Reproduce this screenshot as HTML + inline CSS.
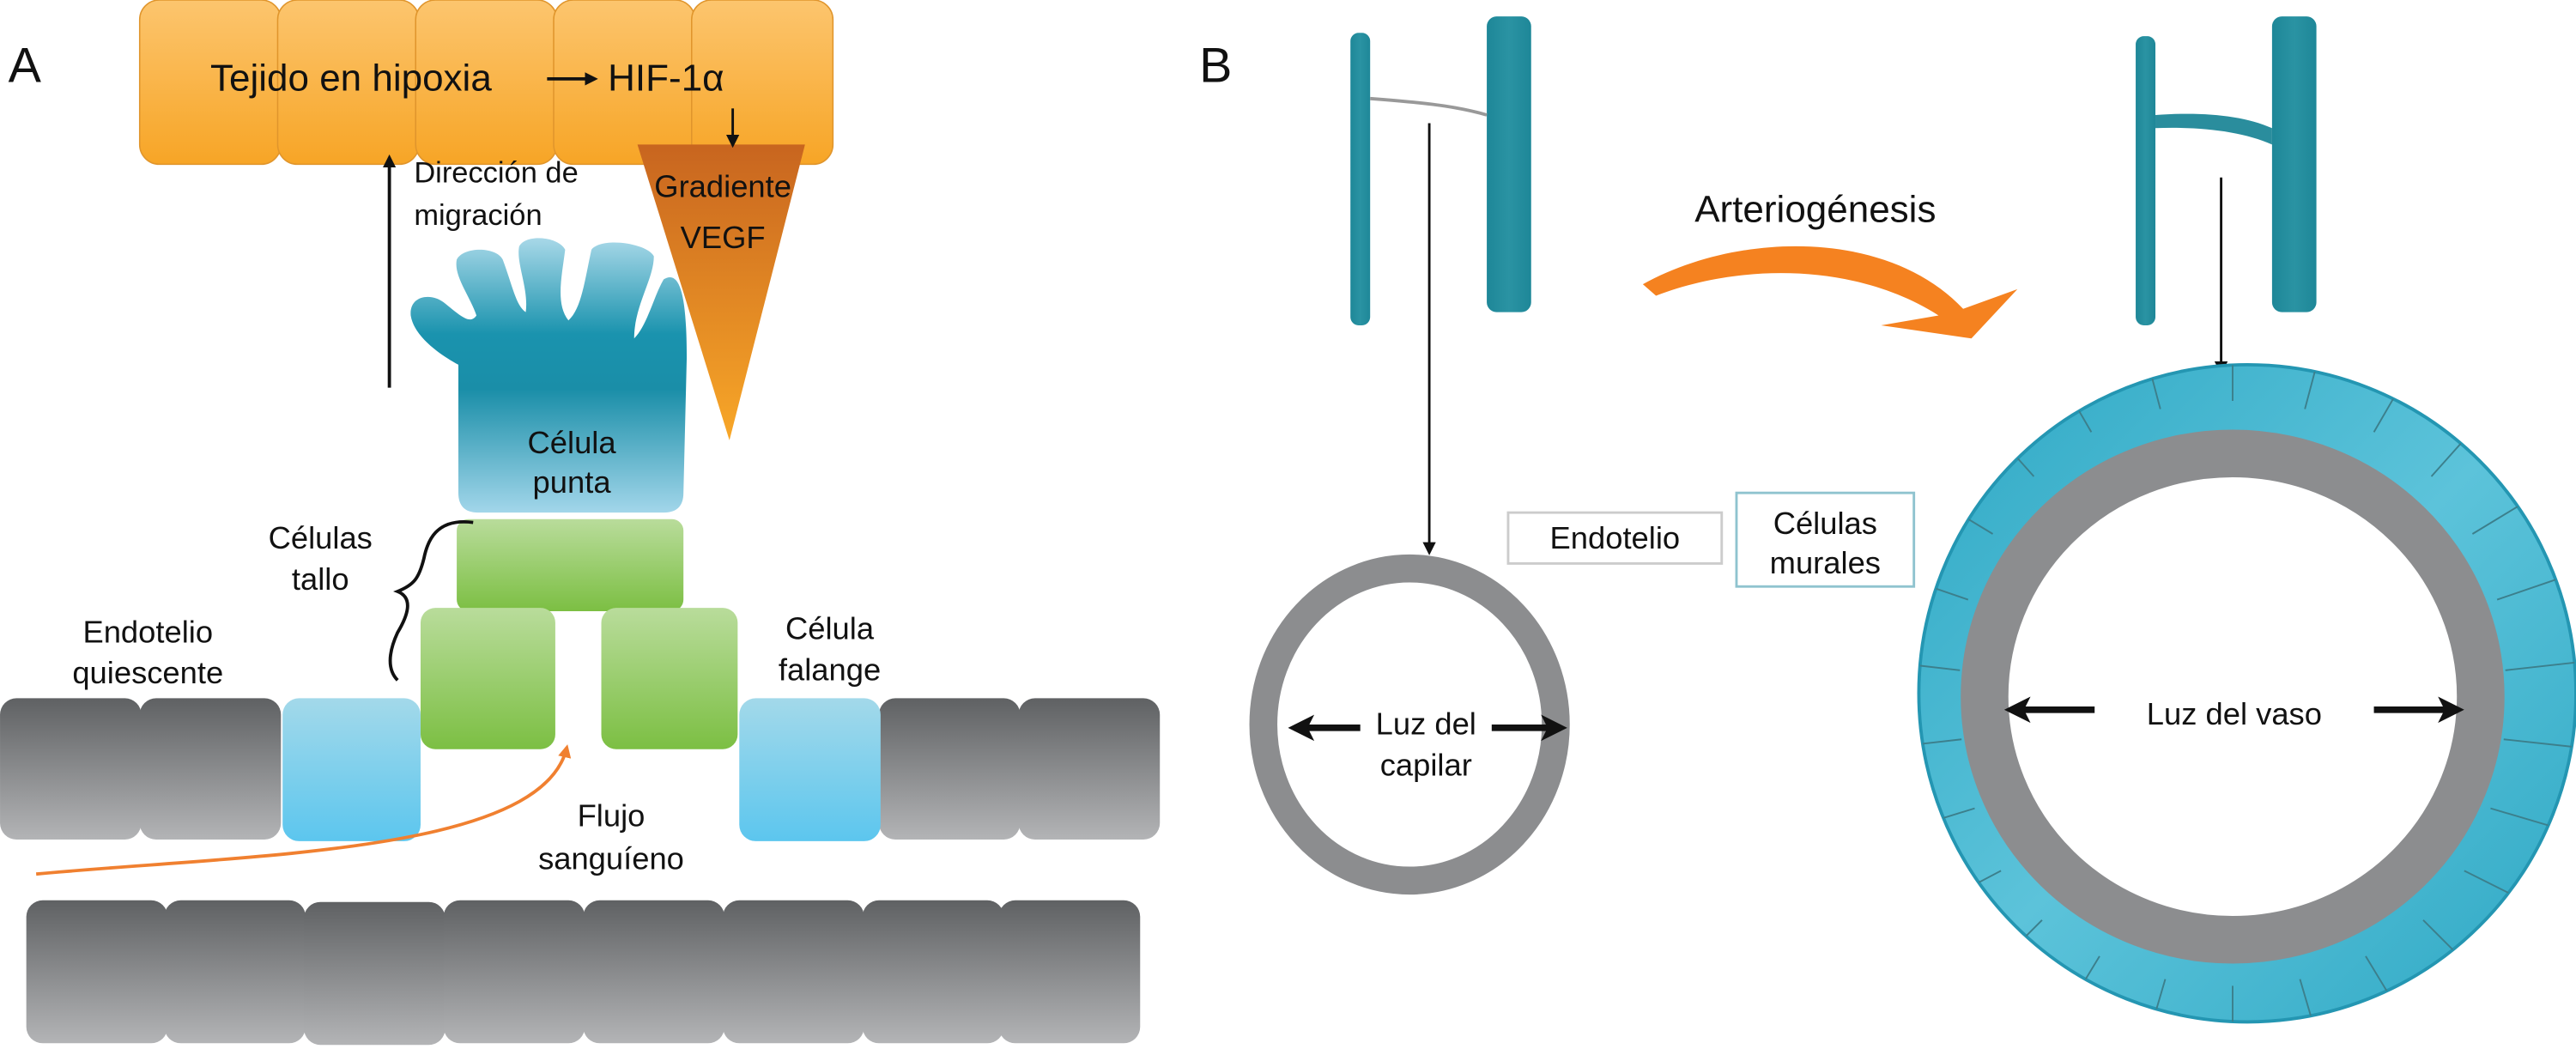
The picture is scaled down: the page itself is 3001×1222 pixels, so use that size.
<!DOCTYPE html>
<html><head><meta charset="utf-8"><style>
html,body{margin:0;padding:0;background:#fff;}
svg{display:block;}
text{font-family:"Liberation Sans",sans-serif;fill:#111;}
</style></head><body>
<svg id="s" width="3001" height="1222" viewBox="0 0 1568 638.5" xmlns="http://www.w3.org/2000/svg">
<defs>
<linearGradient id="or" x1="0" y1="0" x2="0" y2="1"><stop offset="0" stop-color="#fcc56e"/><stop offset="1" stop-color="#f7a526"/></linearGradient>
<linearGradient id="tri" x1="0" y1="0" x2="0" y2="1"><stop offset="0" stop-color="#c8651f"/><stop offset="1" stop-color="#f8a728"/></linearGradient>
<linearGradient id="tip" x1="0" y1="0" x2="0" y2="1"><stop offset="0" stop-color="#a8d8e8"/><stop offset="0.35" stop-color="#1a93ae"/><stop offset="0.55" stop-color="#1a8ea8"/><stop offset="1" stop-color="#a2d6ea"/></linearGradient>
<linearGradient id="gr" x1="0" y1="0" x2="0" y2="1"><stop offset="0" stop-color="#b9dc9b"/><stop offset="1" stop-color="#7cbf43"/></linearGradient>
<linearGradient id="bl" x1="0" y1="0" x2="0" y2="1"><stop offset="0" stop-color="#a3d9ea"/><stop offset="1" stop-color="#5cc6ee"/></linearGradient>
<linearGradient id="gy" x1="0" y1="0" x2="0" y2="1"><stop offset="0" stop-color="#5f6163"/><stop offset="1" stop-color="#b3b4b6"/></linearGradient>
<linearGradient id="ta" x1="0" y1="0" x2="1" y2="0"><stop offset="0" stop-color="#1e8798"/><stop offset="0.5" stop-color="#2a93a3"/><stop offset="1" stop-color="#1e8798"/></linearGradient>
<linearGradient id="tl" x1="0" y1="0" x2="1" y2="1"><stop offset="0" stop-color="#2ea8c4"/><stop offset="0.5" stop-color="#5cc3da"/><stop offset="1" stop-color="#2ea8c4"/></linearGradient>
<marker id="ah" markerWidth="8" markerHeight="8" refX="6" refY="4" orient="auto" markerUnits="userSpaceOnUse"><path d="M0,0 L8,4 L0,8 Z" fill="#111"/></marker>
<marker id="ahb" markerWidth="16" markerHeight="16" refX="12" refY="8" orient="auto" markerUnits="userSpaceOnUse"><path d="M0,0 L16,8 L0,16 L4,8 Z" fill="#111"/></marker>
<marker id="aho" markerWidth="8" markerHeight="8" refX="6" refY="4" orient="auto" markerUnits="userSpaceOnUse"><path d="M0,0 L8,4 L0,8 Z" fill="#f08030"/></marker>
<clipPath id="tc"><ellipse cx="1368" cy="422" rx="200" ry="200"/></clipPath>
</defs>

<!-- Panel A -->
<text x="5" y="50" font-size="30">A</text>
<g fill="url(#or)" stroke="#e0952c" stroke-width="0.8">
<rect x="85" y="0" width="86" height="100" rx="12"/>
<rect x="169" y="0" width="86" height="100" rx="12"/>
<rect x="253" y="0" width="86" height="100" rx="12"/>
<rect x="337" y="0" width="86" height="100" rx="12"/>
<rect x="421" y="0" width="86" height="100" rx="12"/>
</g>
<text x="128" y="55" font-size="23">Tejido en hipoxia</text>
<line x1="333" y1="48" x2="362" y2="48" stroke="#111" stroke-width="2" marker-end="url(#ah)"/>
<text x="370" y="55" font-size="23">HIF-1α</text>
<polygon points="388,88 490,88 444,268" fill="url(#tri)"/>
<line x1="446" y1="66" x2="446" y2="88" stroke="#111" stroke-width="1.5" marker-end="url(#ah)"/>
<text x="440" y="120" font-size="19" text-anchor="middle">Gradiente</text>
<text x="440" y="151" font-size="19" text-anchor="middle">VEGF</text>
<line x1="237" y1="236" x2="237" y2="96" stroke="#111" stroke-width="2" marker-end="url(#ah)"/>
<text x="252" y="111" font-size="18">Dirección de</text>
<text x="252" y="137" font-size="18">migración</text>

<path fill="url(#tip)" d="M279,312 L279,222 C268,216 252,205 250,192 C249,180 262,178 270,184 C280,192 286,198 290,192 C286,180 276,168 278,158 C282,150 302,150 306,158 C312,174 314,186 320,190 C322,176 314,160 316,150 C320,142 340,144 344,152 C342,168 338,185 346,195 C354,188 356,170 360,152 C366,144 394,148 398,156 C398,170 386,186 386,206 C394,198 398,180 404,170 C414,164 418,180 418,218 L416,300 Q416,312 404,312 L291,312 Q279,312 279,300 Z"/>
<text x="348" y="276" font-size="19" text-anchor="middle">Célula</text>
<text x="348" y="300" font-size="19" text-anchor="middle">punta</text>

<rect x="278" y="316" width="138" height="56" rx="7" fill="url(#gr)"/>
<rect x="256" y="370" width="82" height="86" rx="9" fill="url(#gr)"/>
<rect x="366" y="370" width="83" height="86" rx="9" fill="url(#gr)"/>
<path d="M288,318 C265,315 260,330 258,340 C255,352 252,356 242,360 C252,364 248,375 242,385 C236,398 236,408 242,414" fill="none" stroke="#111" stroke-width="2"/>
<text x="195" y="334" font-size="19" text-anchor="middle">Células</text>
<text x="195" y="359" font-size="19" text-anchor="middle">tallo</text>

<g fill="url(#gy)">
<rect x="0" y="425" width="86" height="86" rx="10"/>
<rect x="85" y="425" width="86" height="86" rx="10"/>
<rect x="535" y="425" width="86" height="86" rx="10"/>
<rect x="620" y="425" width="86" height="86" rx="10"/>
</g>
<rect x="172" y="425" width="84" height="87" rx="10" fill="url(#bl)"/>
<rect x="450" y="425" width="86" height="87" rx="10" fill="url(#bl)"/>
<text x="90" y="391" font-size="19" text-anchor="middle">Endotelio</text>
<text x="90" y="416" font-size="19" text-anchor="middle">quiescente</text>
<text x="505" y="389" font-size="19" text-anchor="middle">Célula</text>
<text x="505" y="414" font-size="19" text-anchor="middle">falange</text>

<path d="M22,532 C150,520 330,520 345,455" fill="none" stroke="#f08030" stroke-width="2" marker-end="url(#aho)"/>
<text x="372" y="503" font-size="19" text-anchor="middle">Flujo</text>
<text x="372" y="529" font-size="19" text-anchor="middle">sanguíeno</text>

<g fill="url(#gy)">
<rect x="16" y="548" width="86" height="87" rx="10"/>
<rect x="100" y="548" width="86" height="87" rx="10"/>
<rect x="185" y="549" width="86" height="87" rx="10"/>
<rect x="270" y="548" width="86" height="87" rx="10"/>
<rect x="355" y="548" width="86" height="87" rx="10"/>
<rect x="440" y="548" width="86" height="87" rx="10"/>
<rect x="525" y="548" width="86" height="87" rx="10"/>
<rect x="608" y="548" width="86" height="87" rx="10"/>
</g>

<!-- Panel B -->
<text x="730" y="50" font-size="30">B</text>
<rect x="822" y="20" width="12" height="178" rx="5" fill="url(#ta)"/>
<rect x="905" y="10" width="27" height="180" rx="6" fill="url(#ta)"/>
<path d="M834,60 C860,62 885,64 905,70" fill="none" stroke="#999" stroke-width="2"/>
<line x1="870" y1="75" x2="870" y2="336" stroke="#111" stroke-width="1.5" marker-end="url(#ah)"/>
<ellipse cx="858" cy="441" rx="89" ry="95" fill="none" stroke="#8c8d8f" stroke-width="17"/>
<text x="868" y="447" font-size="19" text-anchor="middle">Luz del</text>
<text x="868" y="472" font-size="19" text-anchor="middle">capilar</text>
<line x1="828" y1="443" x2="788" y2="443" stroke="#111" stroke-width="4" marker-end="url(#ahb)"/>
<line x1="908" y1="443" x2="950" y2="443" stroke="#111" stroke-width="4" marker-end="url(#ahb)"/>

<rect x="918" y="312" width="130" height="31" fill="#fff" stroke="#ccc" stroke-width="1.5"/>
<text x="983" y="334" font-size="19" text-anchor="middle">Endotelio</text>
<rect x="1057" y="300" width="108" height="57" fill="#fff" stroke="#8fc3cf" stroke-width="1.5"/>
<text x="1111" y="325" font-size="19" text-anchor="middle">Células</text>
<text x="1111" y="349" font-size="19" text-anchor="middle">murales</text>

<text x="1105" y="135" font-size="23" text-anchor="middle">Arteriogénesis</text>
<path d="M1000,173 C1060,140 1150,140 1195,188 L1228,176 L1200,206 L1145,198 L1180,192 C1130,160 1060,160 1008,180 Z" fill="#f58220"/>

<rect x="1300" y="22" width="12" height="176" rx="5" fill="url(#ta)"/>
<rect x="1383" y="10" width="27" height="180" rx="6" fill="url(#ta)"/>
<path d="M1312,70 C1340,68 1365,70 1383,78 L1383,88 C1365,80 1340,77 1312,78 Z" fill="#2a8d9d"/>
<line x1="1352" y1="108" x2="1352" y2="226" stroke="#111" stroke-width="1.5" marker-end="url(#ah)"/>

<ellipse cx="1368" cy="422" rx="200" ry="200" fill="url(#tl)" stroke="#2496b2" stroke-width="2"/>
<ellipse cx="1359" cy="424" rx="151" ry="148" fill="#fff" stroke="#8c8d8f" stroke-width="29"/>
<text x="1360" y="441" font-size="19" text-anchor="middle">Luz del vaso</text>
<line x1="1275" y1="432" x2="1224" y2="432" stroke="#111" stroke-width="4" marker-end="url(#ahb)"/>
<line x1="1445" y1="432" x2="1496" y2="432" stroke="#111" stroke-width="4" marker-end="url(#ahb)"/>
<g clip-path="url(#tc)" stroke="#3c7f8c" stroke-width="1" fill="none">
<line x1="1359" y1="244" x2="1359" y2="210"/><line x1="1403" y1="249" x2="1412" y2="215"/><line x1="1315" y1="249" x2="1306" y2="215"/>
<line x1="1445" y1="263" x2="1463" y2="232"/><line x1="1273" y1="263" x2="1255" y2="232"/>
<line x1="1480" y1="290" x2="1505" y2="262"/><line x1="1238" y1="290" x2="1213" y2="262"/>
<line x1="1505" y1="325" x2="1538" y2="305"/><line x1="1213" y1="325" x2="1180" y2="305"/>
<line x1="1520" y1="365" x2="1558" y2="352"/><line x1="1198" y1="365" x2="1160" y2="352"/>
<line x1="1525" y1="408" x2="1570" y2="403"/><line x1="1193" y1="408" x2="1150" y2="403"/>
<line x1="1524" y1="450" x2="1570" y2="455"/><line x1="1194" y1="450" x2="1150" y2="455"/>
<line x1="1516" y1="492" x2="1560" y2="505"/><line x1="1202" y1="492" x2="1160" y2="505"/>
<line x1="1500" y1="530" x2="1540" y2="550"/><line x1="1218" y1="530" x2="1180" y2="550"/>
<line x1="1475" y1="560" x2="1505" y2="590"/><line x1="1243" y1="560" x2="1213" y2="590"/>
<line x1="1440" y1="582" x2="1460" y2="615"/><line x1="1278" y1="582" x2="1258" y2="615"/>
<line x1="1400" y1="596" x2="1410" y2="630"/><line x1="1318" y1="596" x2="1308" y2="630"/>
<line x1="1359" y1="600" x2="1359" y2="630"/>
</g>
</svg>
</body></html>
